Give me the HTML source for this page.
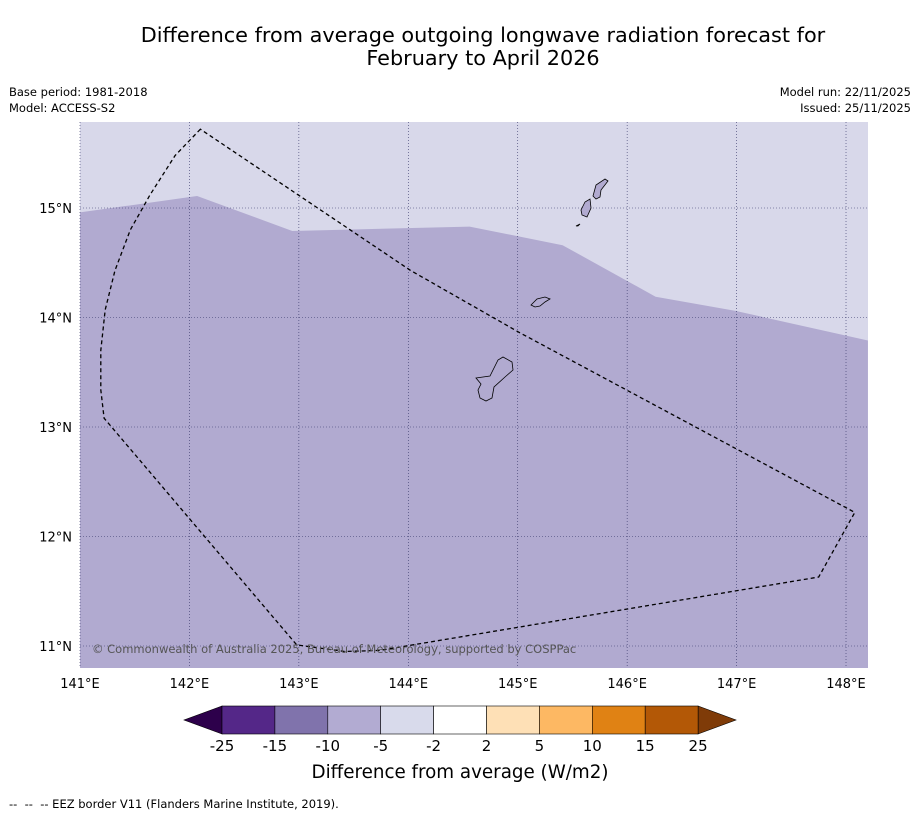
<!DOCTYPE html>
<html><head><meta charset="utf-8"><style>
body{margin:0;background:#fff;font-family:"DejaVu Sans","Liberation Sans",sans-serif;}
</style></head><body>
<svg id="chart" width="919" height="816" viewBox="0 0 919 816" xmlns="http://www.w3.org/2000/svg" font-family="DejaVu Sans, Liberation Sans, sans-serif">
<text x="483" y="42" text-anchor="middle" font-size="20.8">Difference from average outgoing longwave radiation forecast for</text>
<text x="483" y="65" text-anchor="middle" font-size="20.8">February to April 2026</text>
<text x="9" y="96" font-size="11.5">Base period: 1981-2018</text>
<text x="9" y="112" font-size="11.5">Model: ACCESS-S2</text>
<text x="911" y="96" font-size="11.5" text-anchor="end">Model run: 22/11/2025</text>
<text x="911" y="112" font-size="11.5" text-anchor="end">Issued: 25/11/2025</text>
<g id="map"></g>
<g id="cbar"></g>
<text x="460" y="778" text-anchor="middle" font-size="18.3">Difference from average (W/m2)</text>
<text x="9" y="808" font-size="11.5" xml:space="preserve" style="white-space:pre">--  --  -- EEZ border V11 (Flanders Marine Institute, 2019).</text>
</svg>
<script>
const lonTicks=[141,142,143,144,145,146,147,148];
const latTicks=[11,12,13,14,15];
const contourLon=[141.0,142.07,142.94,144.56,145.41,146.26,146.99,148.2];
const contourLat=[14.96,15.11,14.79,14.83,14.66,14.19,14.06,13.79];
const eezLon=[142.10,141.87,141.64,141.46,141.32,141.23,141.19,141.19,141.22,142.98,143.42,143.74,147.75,148.08,145.02,144.02];
const eezLat=[15.72,15.48,15.12,14.80,14.43,14.07,13.70,13.34,13.08,11.01,10.95,10.96,11.63,12.22,13.86,14.43];
const cbLevels=[-25,-15,-10,-5,-2,2,5,10,15,25];
const cbColors=["#542788","#8073ac","#b2abd2","#d8daeb","#ffffff","#fee0b6","#fdb863","#e08214","#b35806"];
const NS="http://www.w3.org/2000/svg";
const X0=80,X1=868,Y0=122,Y1=668;
const xS=lon=>80+(lon-141)*109.43;
const yS=lat=>208+(15-lat)*109.5;
function mk(p,t,a){const e=document.createElementNS(NS,t);for(const k in a)e.setAttribute(k,a[k]);p.appendChild(e);return e;}
const map=document.getElementById('map');
const bg=mk(map,'rect',{x:X0,y:Y0,width:X1-X0,height:Y1-Y0,fill:'#d8d8ea'});


let d='M'+X0+','+Y1;
contourLon.forEach((l,i)=>{d+=' L'+xS(l).toFixed(1)+','+yS(contourLat[i]).toFixed(1);});
d+=' L'+X1+','+Y1+' Z';
const band=mk(map,'path',{d:d,fill:'#b1aad0'});


lonTicks.forEach(l=>{
 const g=mk(map,'line',{x1:xS(l),x2:xS(l),y1:Y0,y2:Y1,stroke:'#333366','stroke-width':0.6,'stroke-dasharray':'1,2'});
 
 
 const t=mk(map,'text',{x:xS(l),y:688,'text-anchor':'middle','font-size':13});
 t.textContent=l+'°E';
 
 
});
latTicks.forEach(l=>{
 const g=mk(map,'line',{x1:X0,x2:X1,y1:yS(l),y2:yS(l),stroke:'#333366','stroke-width':0.6,'stroke-dasharray':'1,2'});
 
 
 const t=mk(map,'text',{x:72,y:yS(l)+5,'text-anchor':'end','font-size':13});
 t.textContent=l+'°N';
 
 
});
const isl=[
 ["guam-island","M476,378 L490,376 L498,360 L503,357 L512,362 L513,370 L505,377 L494,387 L492,398 L486,401 L480,398 L478,390 L481,384 Z"],
 ["rota-island","M531,305 L537,299 L545,297 L550,299 L545,302 L540,306 L535,307 Z"],
 ["tinian-island","M581,210 L585,202 L590,199 L591,208 L587,217 L582,215 Z"],
 ["saipan-island","M593,196 L596,185 L605,179 L608,181 L601,190 L600,197 L596,199 Z"],
 ["aguijan-island","M576,226 L580,224 L578,226 Z"]];
isl.forEach(s=>{const p=mk(map,'path',{d:s[1],fill:'#b1aad0',stroke:'#000','stroke-width':0.8});
 
 });
let e='';
eezLon.forEach((l,i)=>{e+=(i?' L':'M')+xS(l).toFixed(1)+','+yS(eezLat[i]).toFixed(1);});
e+=' Z';
const eez=mk(map,'path',{d:e,fill:'none',stroke:'#000','stroke-width':1.3,'stroke-dasharray':'4,3'});


const cp=mk(map,'text',{x:92,y:653,'font-size':11.5,fill:'#555'});
cp.textContent='© Commonwealth of Australia 2025, Bureau of Meteorology, supported by COSPPac';


const cb=document.getElementById('cbar');
const CB0=222,CBW=52.9,CT=706,CB=734;
const cx=i=>CB0+i*CBW;
const lt=mk(cb,'path',{d:`M${cx(0)},${CT} L184,720 L${cx(0)},${CB} Z`,fill:'#2d004b',stroke:'#000','stroke-width':0.6});


const rt=mk(cb,'path',{d:`M${cx(9)},${CT} L736,720 L${cx(9)},${CB} Z`,fill:'#7f3b08',stroke:'#000','stroke-width':0.6});


cbColors.forEach((c,i)=>{const r=mk(cb,'rect',{x:cx(i),y:CT,width:CBW,height:CB-CT,fill:c,stroke:'#000','stroke-width':0.6});
 
 });
cbLevels.forEach((v,i)=>{const t=mk(cb,'text',{x:cx(i),y:751,'text-anchor':'middle','font-size':15});
 t.textContent=v;
 
 });
</script>
</body></html>
